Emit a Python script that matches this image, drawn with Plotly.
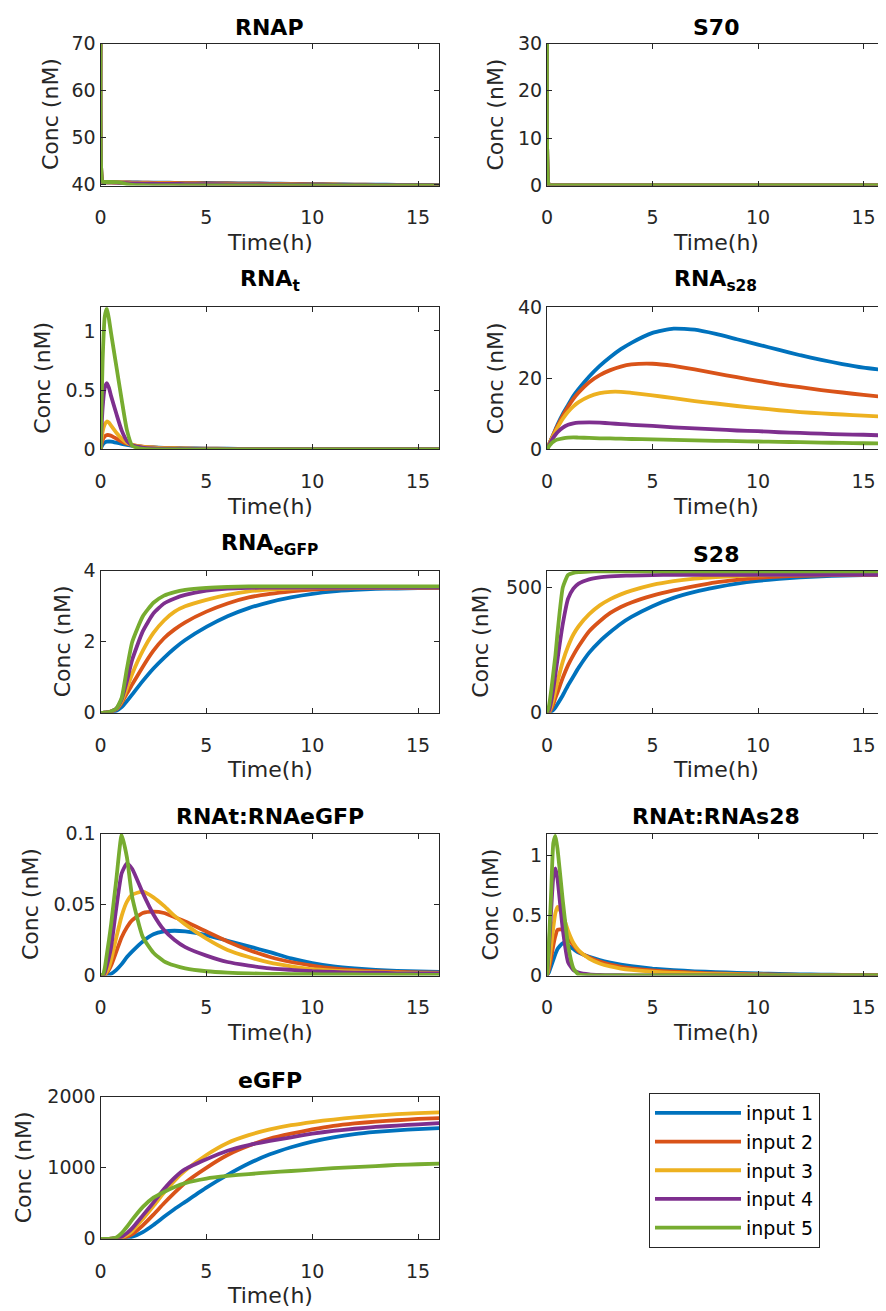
import plotly.graph_objects as go

# ---------------- data ----------------
T = [0, 0.1, 0.2, 0.3, 0.4, 0.5, 0.75, 1, 1.25, 1.5, 2, 2.5, 3, 3.5, 4,
     5, 6, 7, 8, 9, 10, 11, 12, 13, 14, 15, 16]

SERIES = ["input 1", "input 2", "input 3", "input 4", "input 5"]
COLORS = ["#0072BD", "#D95319", "#EDB120", "#7E2F8E", "#77AC30"]

RNAP = [
    [70, 40.5, 40.45, 40.42, 40.4, 40.4, 40.4, 40.4, 40.4, 40.4, 40.38, 40.36, 40.35, 40.33, 40.32,
     40.28, 40.24, 40.2, 40.15, 40.1, 40.05, 40.0, 39.95, 39.92, 39.9, 39.88, 39.86],
    [70, 40.5, 40.45, 40.42, 40.4, 40.4, 40.4, 40.4, 40.4, 40.38, 40.35, 40.33, 40.3, 40.28, 40.26,
     40.22, 40.18, 40.14, 40.1, 40.05, 40.0, 39.96, 39.93, 39.9, 39.88, 39.87, 39.86],
    [70, 40.5, 40.45, 40.42, 40.4, 40.4, 40.38, 40.36, 40.33, 40.3, 40.26, 40.22, 40.2, 40.17, 40.15,
     40.1, 40.06, 40.02, 39.99, 39.96, 39.93, 39.91, 39.9, 39.89, 39.88, 39.87, 39.86],
    [70, 40.5, 40.45, 40.42, 40.4, 40.4, 40.35, 40.3, 40.25, 40.2, 40.15, 40.12, 40.1, 40.08, 40.06,
     40.03, 40.0, 39.98, 39.96, 39.94, 39.92, 39.9, 39.89, 39.88, 39.87, 39.86, 39.86],
    [70, 40.55, 40.5, 40.5, 40.5, 40.5, 40.45, 40.3, 40.05, 39.88, 39.8, 39.78, 39.77, 39.76, 39.76,
     39.75, 39.75, 39.75, 39.75, 39.75, 39.75, 39.75, 39.75, 39.75, 39.75, 39.75, 39.75],
]

S70 = [[30] + [0] * 26 for _ in range(5)]

RNA_T = [
    [0, 0.04, 0.058, 0.065, 0.066, 0.065, 0.056, 0.046, 0.037, 0.03, 0.021, 0.016, 0.012, 0.01, 0.008,
     0.006, 0.0045, 0.0035, 0.003, 0.0025, 0.002, 0.002, 0.0015, 0.0015, 0.001, 0.001, 0.001],
    [0, 0.08, 0.11, 0.12, 0.12, 0.115, 0.09, 0.065, 0.047, 0.035, 0.022, 0.015, 0.011, 0.009, 0.007,
     0.005, 0.004, 0.003, 0.0025, 0.002, 0.002, 0.0015, 0.0015, 0.001, 0.001, 0.001, 0.001],
    [0, 0.15, 0.21, 0.235, 0.225, 0.2, 0.14, 0.09, 0.055, 0.037, 0.02, 0.013, 0.009, 0.007, 0.005,
     0.003, 0.002, 0.0015, 0.001, 0.001, 0.001, 0.001, 0.001, 0.001, 0.001, 0.001, 0.001],
    [0, 0.35, 0.52, 0.56, 0.52, 0.45, 0.3, 0.16, 0.07, 0.035, 0.015, 0.008, 0.005, 0.004, 0.003,
     0.002, 0.0015, 0.001, 0.001, 0.001, 0.001, 0.001, 0.001, 0.001, 0.001, 0.001, 0.001],
    [0, 0.75, 1.12, 1.19, 1.1, 0.98, 0.7, 0.42, 0.16, 0.03, 0.003, 0, 0, 0, 0,
     0, 0, 0, 0, 0, 0, 0, 0, 0, 0, 0, 0],
]

RNA_S28 = [
    [0, 1.4, 2.8, 4.2, 5.6, 7.0, 10.0, 12.5, 15.0, 17.0, 20.5, 23.5, 26.0, 28.2, 30.0,
     32.8, 34.0, 33.7, 32.5, 31.0, 29.5, 28.0, 26.5, 25.2, 24.0, 23.0, 22.3],
    [0, 1.4, 2.8, 4.1, 5.4, 6.6, 9.5, 12.0, 14.2, 16.0, 18.9, 20.9, 22.3, 23.3, 23.9,
     24.1, 23.5, 22.5, 21.4, 20.3, 19.3, 18.3, 17.5, 16.7, 16.0, 15.3, 14.7],
    [0, 1.35, 2.7, 3.9, 5.0, 6.1, 8.6, 10.6, 12.1, 13.3, 14.9, 15.8, 16.2, 16.2, 15.9,
     15.2, 14.4, 13.6, 12.9, 12.2, 11.6, 11.0, 10.5, 10.1, 9.8, 9.5, 9.2],
    [0, 1.2, 2.3, 3.3, 4.1, 4.8, 6.1, 6.9, 7.3, 7.5, 7.6, 7.5, 7.3, 7.1, 6.9,
     6.6, 6.2, 5.9, 5.6, 5.3, 5.1, 4.8, 4.6, 4.4, 4.2, 4.1, 3.9],
    [0, 0.9, 1.6, 2.1, 2.5, 2.75, 3.1, 3.3, 3.35, 3.3, 3.2, 3.1, 3.05, 3.0, 2.9,
     2.8, 2.65, 2.5, 2.4, 2.3, 2.2, 2.1, 2.0, 1.9, 1.8, 1.7, 1.65],
]

RNA_EGFP = [
    [0, 0, 0.003, 0.006, 0.01, 0.02, 0.06, 0.16, 0.33, 0.52, 0.9, 1.25, 1.55, 1.82, 2.05,
     2.42, 2.72, 2.95, 3.12, 3.25, 3.35, 3.42, 3.46, 3.49, 3.5, 3.51, 3.52],
    [0, 0, 0.005, 0.01, 0.02, 0.035, 0.1, 0.28, 0.55, 0.8, 1.3, 1.75, 2.1, 2.35, 2.55,
     2.85, 3.08, 3.25, 3.35, 3.42, 3.47, 3.5, 3.51, 3.52, 3.52, 3.52, 3.52],
    [0, 0, 0.005, 0.01, 0.02, 0.04, 0.11, 0.32, 0.7, 1.1, 1.75, 2.25, 2.6, 2.85, 3.0,
     3.18, 3.32, 3.42, 3.47, 3.5, 3.52, 3.53, 3.53, 3.53, 3.53, 3.53, 3.53],
    [0, 0, 0.005, 0.01, 0.02, 0.04, 0.12, 0.38, 0.9, 1.5, 2.3, 2.8, 3.08, 3.22, 3.32,
     3.44, 3.5, 3.52, 3.53, 3.53, 3.53, 3.53, 3.53, 3.53, 3.53, 3.53, 3.53],
    [0, 0, 0.005, 0.01, 0.02, 0.04, 0.12, 0.42, 1.25, 2.0, 2.72, 3.1, 3.3, 3.4, 3.46,
     3.52, 3.55, 3.56, 3.56, 3.56, 3.56, 3.56, 3.56, 3.56, 3.56, 3.56, 3.56],
]

S28 = [
    [0, 1, 5, 12, 22, 35, 70, 110, 145, 180, 240, 285, 322, 355, 382,
     425, 458, 482, 500, 515, 526, 534, 540, 544, 547, 549, 550],
    [0, 3, 15, 35, 60, 82, 140, 190, 230, 265, 325, 365, 398, 422, 440,
     467, 488, 505, 520, 530, 538, 543, 546, 548, 549, 550, 550],
    [0, 5, 25, 55, 90, 125, 205, 265, 312, 345, 393, 428, 453, 472, 487,
     510, 525, 535, 541, 545, 548, 549, 550, 550, 550, 550, 550],
    [0, 10, 45, 95, 155, 215, 355, 455, 495, 515, 532, 540, 544, 546, 547,
     549, 550, 550, 550, 550, 550, 550, 550, 550, 550, 550, 550],
    [0, 30, 90, 160, 230, 320, 500, 550, 558, 561, 563, 564, 564, 564, 564,
     564, 564, 564, 564, 564, 564, 564, 564, 564, 564, 564, 564],
]

RNAT_RNAEGFP = [
    [0, 0, 0, 0.0003, 0.0007, 0.0012, 0.004, 0.008, 0.013, 0.017, 0.024, 0.029, 0.031, 0.0315, 0.031,
     0.0285, 0.0245, 0.0205, 0.0165, 0.012, 0.0088, 0.0065, 0.005, 0.004, 0.0033, 0.0028, 0.0025],
    [0, 0, 0.0005, 0.002, 0.004, 0.007, 0.017, 0.027, 0.034, 0.039, 0.044, 0.045, 0.044, 0.041, 0.038,
     0.031, 0.024, 0.018, 0.013, 0.0095, 0.007, 0.005, 0.0037, 0.003, 0.0025, 0.0022, 0.002],
    [0, 0, 0.001, 0.003, 0.006, 0.011, 0.027, 0.042, 0.052, 0.057, 0.059, 0.055, 0.049, 0.042, 0.036,
     0.026, 0.018, 0.013, 0.009, 0.0065, 0.0045, 0.0035, 0.0028, 0.0023, 0.002, 0.0018, 0.0017],
    [0, 0, 0.002, 0.007, 0.013, 0.02, 0.048, 0.072, 0.079, 0.075, 0.058, 0.043, 0.032, 0.025, 0.02,
     0.014, 0.0095, 0.007, 0.005, 0.004, 0.003, 0.0025, 0.002, 0.002, 0.0015, 0.0015, 0.0015],
    [0, 0, 0.005, 0.015, 0.025, 0.036, 0.068, 0.099, 0.083, 0.055, 0.027, 0.016, 0.01, 0.007, 0.005,
     0.003, 0.002, 0.0015, 0.0012, 0.001, 0.0009, 0.0008, 0.0007, 0.0006, 0.0006, 0.0005, 0.0005],
]

RNAT_RNAS28 = [
    [0, 0.03, 0.08, 0.13, 0.18, 0.22, 0.27, 0.25, 0.22, 0.19, 0.155, 0.128, 0.107, 0.09, 0.077,
     0.058, 0.045, 0.035, 0.028, 0.022, 0.017, 0.013, 0.01, 0.008, 0.006, 0.005, 0.004],
    [0, 0.06, 0.15, 0.25, 0.33, 0.38, 0.38, 0.31, 0.25, 0.2, 0.15, 0.115, 0.09, 0.072, 0.059,
     0.042, 0.031, 0.023, 0.017, 0.013, 0.01, 0.0075, 0.0058, 0.0045, 0.0035, 0.003, 0.0025],
    [0, 0.1, 0.25, 0.4, 0.52, 0.57, 0.5, 0.37, 0.27, 0.21, 0.14, 0.1, 0.075, 0.058, 0.047,
     0.032, 0.022, 0.016, 0.012, 0.009, 0.007, 0.005, 0.004, 0.003, 0.0025, 0.002, 0.002],
    [0, 0.25, 0.55, 0.82, 0.89, 0.8, 0.38, 0.11, 0.045, 0.025, 0.01, 0.005, 0.003, 0.002, 0.0015,
     0.001, 0.001, 0.001, 0.001, 0.001, 0.001, 0.001, 0.001, 0.001, 0.001, 0.001, 0.001],
    [0, 0.3, 0.7, 1.1, 1.16, 1.05, 0.62, 0.25, 0.06, 0.008, 0.002, 0, 0, 0, 0,
     0, 0, 0, 0, 0, 0, 0, 0, 0, 0, 0, 0],
]

EGFP = [
    [0, 0, 0, 0, 0, 0, 1, 4, 12, 28, 95, 195, 310, 420, 520,
     720, 900, 1060, 1190, 1290, 1370, 1430, 1475, 1505, 1528, 1545, 1558],
    [0, 0, 0, 0, 0, 0, 2, 10, 30, 65, 190, 340, 500, 650, 790,
     1000, 1180, 1310, 1410, 1480, 1540, 1590, 1625, 1650, 1670, 1688, 1700],
    [0, 0, 0, 0, 0, 1, 5, 20, 55, 110, 280, 460, 650, 820, 960,
     1180, 1350, 1460, 1540, 1600, 1645, 1680, 1710, 1735, 1755, 1770, 1780],
    [0, 0, 0, 0, 0, 1, 8, 30, 80, 150, 330, 510, 700, 860, 980,
     1120, 1240, 1320, 1380, 1430, 1480, 1520, 1550, 1575, 1595, 1612, 1628],
    [0, 0, 0, 0, 0, 2, 20, 80, 170, 270, 450, 580, 660, 730, 785,
     848, 885, 912, 935, 955, 975, 995, 1010, 1025, 1040, 1050, 1060],
]

PANELS = [RNAP, S70, RNA_T, RNA_S28, RNA_EGFP, S28, RNAT_RNAEGFP, RNAT_RNAS28, EGFP]
TITLES = ["RNAP", "S70", "RNA<sub>t</sub>", "RNA<sub>s28</sub>", "RNA<sub>eGFP</sub>",
          "S28", "RNAt:RNAeGFP", "RNAt:RNAs28", "eGFP"]
Y_RANGES = [[39.75, 70], [0, 30], [0, 1.2], [0, 40], [0, 4], [0, 566],
            [0, 0.1], [0, 1.18], [0, 2000]]
Y_TICKS = [[40, 50, 60, 70], [0, 10, 20, 30], [0, 0.5, 1], [0, 20, 40], [0, 2, 4],
           [0, 500], [0, 0.05, 0.1], [0, 0.5, 1], [0, 1000, 2000]]
Y_TICKTEXT = [["40", "50", "60", "70"], ["0", "10", "20", "30"], ["0", "0.5", "1"],
              ["0", "20", "40"], ["0", "2", "4"], ["0", "500"], ["0", "0.05", "0.1"],
              ["0", "0.5", "1"], ["0", "1000", "2000"]]
X_TICKS = [0, 5, 10, 15]

# ---------------- layout geometry (pixels of the 886x1311 window) ----------------
OFF = 8                       # default page-body margin around the plot div
W, H = 886 - OFF, 1311 - OFF  # figure size so that the figure ends at the window edge
COL_X = [(100.5, 439.3), (547.0, 884.6)]
ROW_TOP = [43.5, 307.3, 570.8, 833.5, 1096.8]
AX_H = 142.0
YLABEL_OFF = [50, 52, 58, 52, 38, 66, 70, 57, 77]
SUB_SHIFT = [0, 0, 8, 8, 8, 0, 0, 0, 0]


def px(x):
    return (x - OFF) / W


def py(y):
    return 1 - (y - OFF) / H


FONT = "DejaVu Sans"
INK = "#262626"

fig = go.Figure()
layout = dict(
    template="none",
    width=W, height=H,
    margin=dict(l=0, r=0, t=0, b=0, autoexpand=False),
    paper_bgcolor="white", plot_bgcolor="white",
    font=dict(family=FONT, size=19, color=INK),
    showlegend=True,
)
annotations = []

for i, panel in enumerate(PANELS):
    r, c = divmod(i, 2)
    n = i + 1
    xa = "xaxis" if n == 1 else f"xaxis{n}"
    ya = "yaxis" if n == 1 else f"yaxis{n}"
    xr = "x" if n == 1 else f"x{n}"
    yr = "y" if n == 1 else f"y{n}"
    x0, x1 = COL_X[c]
    top = ROW_TOP[r]
    layout[xa] = dict(
        domain=[px(x0), px(x1)], anchor=yr, range=[0, 16], automargin=False,
        tickvals=X_TICKS, ticktext=[str(v) for v in X_TICKS],
        ticks="inside", ticklen=5, tickwidth=1, tickcolor=INK,
        showline=True, linecolor=INK, linewidth=1, mirror="ticks",
        showgrid=False, zeroline=False, ticklabelstandoff=15,
        tickfont=dict(family=FONT, size=19, color=INK),
    )
    layout[ya] = dict(
        domain=[py(top + AX_H), py(top)], anchor=xr, automargin=False,
        range=Y_RANGES[i], tickvals=Y_TICKS[i], ticktext=Y_TICKTEXT[i],
        ticks="inside", ticklen=5, tickwidth=1, tickcolor=INK,
        showline=True, linecolor=INK, linewidth=1, mirror="ticks",
        showgrid=False, zeroline=False,
        tickfont=dict(family=FONT, size=19, color=INK),
    )
    for k, ys in enumerate(panel):
        fig.add_trace(go.Scatter(
            x=T, y=ys, mode="lines", name=SERIES[k],
            line=dict(color=COLORS[k], width=3.8, shape="spline", smoothing=0.5),
            xaxis=xr, yaxis=yr, showlegend=(i == 0), legendgroup=SERIES[k],
        ))
    annotations.append(dict(
        text=f"<b>{TITLES[i]}</b>", xref=f"{xr} domain", yref=f"{yr} domain",
        x=0.5, y=1, xanchor="center", yanchor="bottom", yshift=2 + SUB_SHIFT[i],
        showarrow=False, font=dict(family=FONT, size=22, color="black"),
    ))
    annotations.append(dict(
        text="Time(h)", xref=f"{xr} domain", yref=f"{yr} domain",
        x=0.5, y=0, xanchor="center", yanchor="middle", yshift=-57, showarrow=False,
        font=dict(family=FONT, size=22, color=INK),
    ))
    annotations.append(dict(
        text="Conc (nM)", xref=f"{xr} domain", yref=f"{yr} domain",
        x=0, y=0.5, xanchor="center", yanchor="middle", xshift=-YLABEL_OFF[i],
        textangle=-90, showarrow=False, font=dict(family=FONT, size=22, color=INK),
    ))

layout["annotations"] = annotations
layout["legend"] = dict(
    x=px(649), y=py(1093), xanchor="left", yanchor="top",
    bordercolor=INK, borderwidth=1, bgcolor="white",
    font=dict(family=FONT, size=19, color="black"),
    itemwidth=86, traceorder="grouped", tracegroupgap=1,
)
fig.update_layout(**layout)
fig.write_html("out.html")
